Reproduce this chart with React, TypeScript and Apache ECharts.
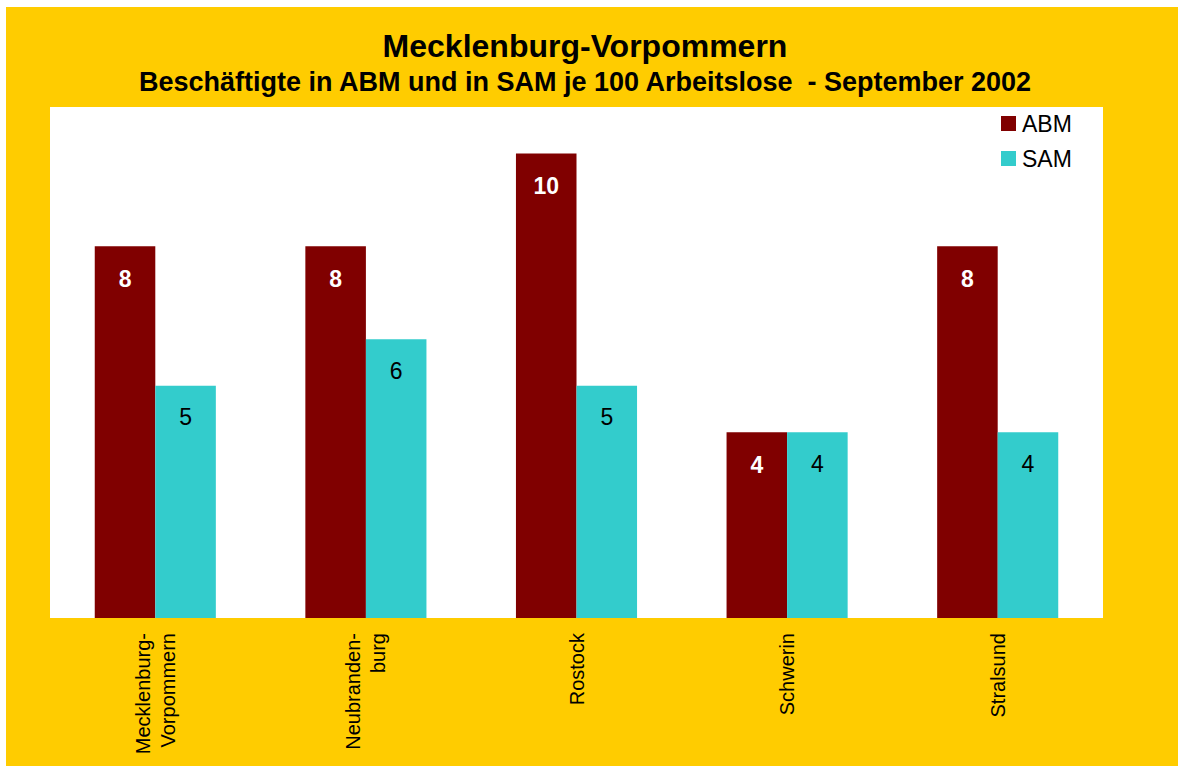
import React, { useEffect, useRef } from "react";
import * as echarts from "echarts";

const categories = ["Mecklenburg-\nVorpommern", "Neubranden-\nburg", "Rostock", "Schwerin", "Stralsund"];
const abmValues = [8, 8, 10, 4, 8];
const samValues = [5, 6, 5, 4, 4];
const titleText = "Mecklenburg-Vorpommern";
const subtitleText = "Beschäftigte in ABM und in SAM je 100 Arbeitslose  - September 2002";

const FONT = "'Liberation Sans', Arial, Helvetica, sans-serif";

export default function App() {
  const ref = useRef<HTMLDivElement>(null);
  useEffect(() => {
    if (!ref.current) return;
    const chart = echarts.init(ref.current, null, { renderer: "svg" });
    chart.setOption({
      animation: false,
      backgroundColor: "#ffffff",
      textStyle: { fontFamily: FONT },
      graphic: [
        {
          type: "rect",
          z: -10,
          silent: true,
          shape: { x: 6, y: 7, width: 1172, height: 759 },
          style: { fill: "#FFCC00" },
        },
        {
          type: "text",
          x: 585,
          y: 46,
          style: {
            text: titleText,
            font: `bold 32px ${FONT}`,
            fill: "#000",
            align: "center",
            verticalAlign: "middle",
          },
        },
        {
          type: "text",
          x: 585,
          y: 82,
          style: {
            text: subtitleText,
            font: `bold 27px ${FONT}`,
            fill: "#000",
            align: "center",
            verticalAlign: "middle",
          },
        },
      ],
      legend: {
        orient: "vertical",
        left: 996,
        top: 107,
        itemWidth: 15,
        itemHeight: 15,
        itemGap: 12,
        icon: "rect",
        textStyle: { fontSize: 23, lineHeight: 23, color: "#000", fontFamily: FONT, padding: [0, 0, 0, 1] },
        data: ["ABM", "SAM"],
      },
      grid: {
        left: 50,
        top: 107,
        right: 75,
        bottom: 148,
        show: true,
        backgroundColor: "#ffffff",
        borderWidth: 0,
      },
      xAxis: {
        type: "category",
        data: categories,
        axisLine: { show: false },
        axisTick: { show: false },
        axisLabel: {
          rotate: 90,
          fontSize: 20,
          lineHeight: 25,
          color: "#000",
          fontFamily: FONT,
          margin: 15,
          interval: 0,
        },
      },
      yAxis: {
        type: "value",
        min: 0,
        max: 11,
        show: false,
        splitLine: { show: false },
      },
      series: [
        {
          name: "ABM",
          type: "bar",
          data: abmValues,
          barGap: "0%",
          barCategoryGap: "42.5%",
          itemStyle: { color: "#800000" },
          label: {
            show: true,
            position: "insideTop",
            distance: 21,
            color: "#ffffff",
            fontWeight: "bold",
            fontSize: 23,
            fontFamily: FONT,
          },
        },
        {
          name: "SAM",
          type: "bar",
          data: samValues,
          barGap: "0%",
          barCategoryGap: "42.5%",
          itemStyle: { color: "#33CCCC" },
          label: {
            show: true,
            position: "insideTop",
            distance: 20,
            color: "#000000",
            fontSize: 23,
            fontFamily: FONT,
          },
        },
      ],
    });
    return () => chart.dispose();
  }, []);
  return (
    <div
      ref={ref}
      style={{ position: "fixed", left: 0, top: 0, width: 1178, height: 766 }}
    />
  );
}
